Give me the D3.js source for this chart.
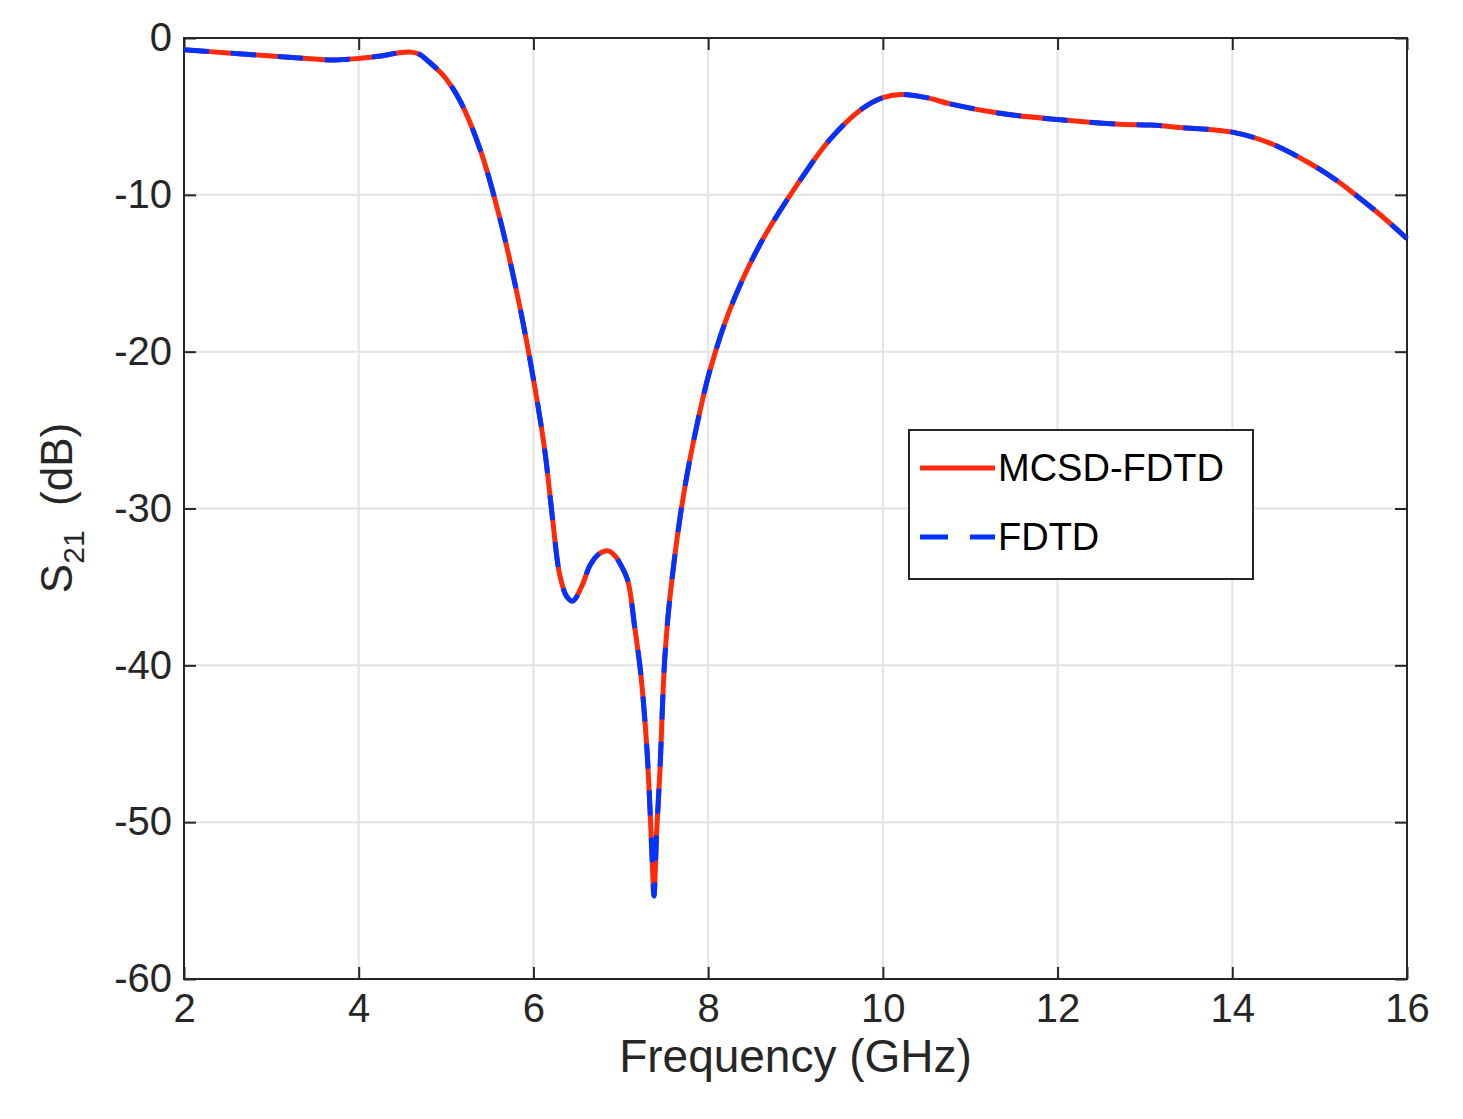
<!DOCTYPE html>
<html lang="en">
<head>
<meta charset="UTF-8">
<title>S21 vs Frequency</title>
<script src="https://d3js.org/d3.v7.min.js"></script>
<style>
  body { margin: 0; background: #fff; }
  svg { display: block; font-family: 'Liberation Sans', Arial, sans-serif; }
</style>
</head>
<body>
<svg id="chart" width="1463" height="1119"></svg>
<script>
// frequency (GHz) and S21 (dB)
const freq = [2.0, 2.5, 3.0, 3.4, 3.7, 4.0, 4.25, 4.45, 4.6, 4.7, 4.8, 4.9, 5.0, 5.16, 5.39, 5.62, 5.85, 6.02, 6.13, 6.22, 6.3, 6.38, 6.45, 6.55, 6.65, 6.75, 6.85, 6.93, 7.0, 7.08, 7.16, 7.22, 7.26, 7.3, 7.33, 7.36, 7.38, 7.41, 7.45, 7.48, 7.51, 7.56, 7.68, 7.79, 7.91, 8.02, 8.25, 8.59, 9.05, 9.39, 9.74, 10.0, 10.2, 10.5, 10.77, 11.34, 12.0, 12.71, 13.06, 13.4, 14.0, 14.43, 14.89, 15.2, 15.41, 15.7, 16.0];
const s21 = [-0.75, -0.95, -1.15, -1.3, -1.4, -1.3, -1.15, -0.95, -0.9, -1.05, -1.5, -2.0, -2.6, -4.0, -7.1, -11.6, -17.3, -22.4, -26.3, -30.7, -34.2, -35.6, -35.9, -35.0, -33.6, -32.9, -32.7, -33.0, -33.6, -34.6, -37.6, -40.1, -42.4, -45.4, -48.6, -52.5, -54.7, -50.7, -46.5, -42.2, -39.0, -35.8, -30.5, -26.9, -23.7, -21.2, -17.3, -13.2, -9.1, -6.5, -4.6, -3.8, -3.6, -3.8, -4.2, -4.8, -5.2, -5.5, -5.55, -5.7, -6.0, -6.7, -8.0, -9.1, -10.0, -11.3, -12.8];

const seriesNames = ["MCSD-FDTD", "FDTD"];
const seriesColors = ["#ff2a0a", "#0033ff"];
const xTicks = [2, 4, 6, 8, 10, 12, 14, 16];
const yTicks = [0, -10, -20, -30, -40, -50, -60];

const svg = d3.select("#chart");
const margin = {left: 184, top: 38, right: 1463 - 1407, bottom: 1119 - 979};
const w = 1463 - margin.left - margin.right;
const h = 1119 - margin.top - margin.bottom;
const g = svg.append("g").attr("transform", `translate(${margin.left},${margin.top})`);

const x = d3.scaleLinear().domain([2, 16]).range([0, w]);
const y = d3.scaleLinear().domain([-60, 0]).range([h, 0]);

const axisColor = "#262626";

// grid
g.append("g").selectAll("line").data(xTicks.slice(1, -1)).enter().append("line")
  .attr("x1", d => x(d)).attr("x2", d => x(d)).attr("y1", 0).attr("y2", h)
  .attr("stroke", "#e3e3e3").attr("stroke-width", 2);
g.append("g").selectAll("line").data(yTicks.slice(1, -1)).enter().append("line")
  .attr("y1", d => y(d)).attr("y2", d => y(d)).attr("x1", 0).attr("x2", w)
  .attr("stroke", "#e3e3e3").attr("stroke-width", 2);

// axes with inward ticks
const tl = 12;
const fmt = d => String(d);  // plain hyphen, as in the original
function styleAxis(sel) {
  sel.select(".domain").remove();
  sel.selectAll(".tick line").attr("stroke", axisColor).attr("stroke-width", 2);
  sel.selectAll(".tick text").attr("fill", axisColor).attr("font-size", 40);
}
g.append("g").attr("transform", `translate(0,${h})`)
  .call(d3.axisBottom(x).tickValues(xTicks).tickSize(-tl).tickPadding(15).tickFormat(fmt))
  .call(styleAxis);
g.append("g")
  .call(d3.axisLeft(y).tickValues(yTicks).tickSize(-tl).tickPadding(12).tickFormat(fmt))
  .call(styleAxis);
g.append("g")
  .call(d3.axisTop(x).tickValues(xTicks).tickSize(-tl).tickFormat(""))
  .call(styleAxis);
g.append("g").attr("transform", `translate(${w},0)`)
  .call(d3.axisRight(y).tickValues(yTicks).tickSize(-tl).tickFormat(""))
  .call(styleAxis);

g.append("rect").attr("width", w).attr("height", h)
  .attr("fill", "none").attr("stroke", axisColor).attr("stroke-width", 2);

// curves
const pts = freq.map((f, i) => [f, s21[i]]);
const line = d3.line().x(d => x(d[0])).y(d => y(d[1])).curve(d3.curveCatmullRom.alpha(0.5));
g.append("path").datum(pts).attr("d", line)
  .attr("fill", "none").attr("stroke", seriesColors[0]).attr("stroke-width", 5);
g.append("path").datum(pts).attr("d", line)
  .attr("fill", "none").attr("stroke", seriesColors[1]).attr("stroke-width", 5)
  .attr("stroke-dasharray", "25 22");

// axis labels
svg.append("text").attr("x", margin.left + w / 2).attr("y", 1072)
  .attr("text-anchor", "middle").attr("font-size", 46).attr("fill", axisColor)
  .text("Frequency (GHz)");
const yl = svg.append("text").attr("transform", "translate(72,508) rotate(-90)")
  .attr("text-anchor", "middle").attr("font-size", 44).attr("fill", axisColor);
yl.append("tspan").text("S");
yl.append("tspan").attr("font-size", 30).attr("dy", 12).text("21");
yl.append("tspan").attr("dy", -12).text("\u00a0 (dB)");

// legend
const lg = svg.append("g").attr("transform", "translate(909,430)");
lg.append("rect").attr("width", 344).attr("height", 149)
  .attr("fill", "#fff").attr("stroke", axisColor).attr("stroke-width", 2);
seriesNames.forEach((name, i) => {
  const ly = 38 + i * 69;
  lg.append("line").attr("x1", 11).attr("x2", 86).attr("y1", ly).attr("y2", ly)
    .attr("stroke", seriesColors[i]).attr("stroke-width", 5)
    .attr("stroke-dasharray", i === 1 ? "28 22" : null);
  lg.append("text").attr("x", 89).attr("y", ly + 13).attr("font-size", 38)
    .attr("fill", "#000").text(name);
});
</script>
</body>
</html>
